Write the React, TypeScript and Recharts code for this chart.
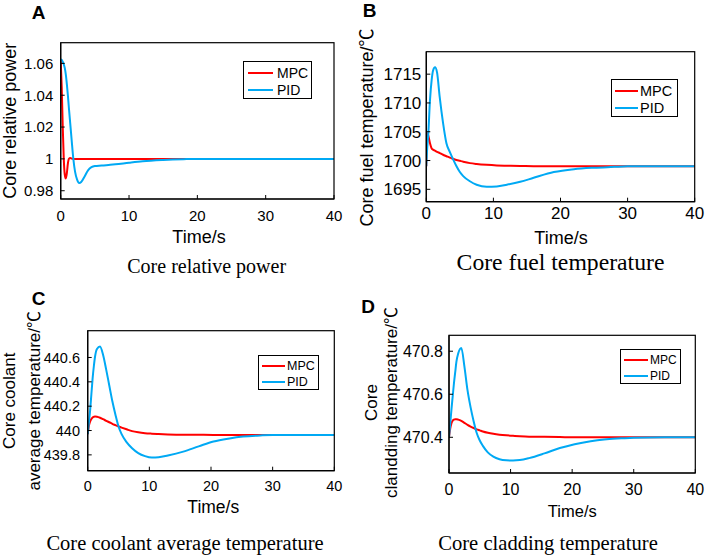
import React from 'react';
import { LineChart, Line, XAxis, YAxis, Legend } from 'recharts';

// time samples (s) and responses
const timeA = [0, 0.15, 0.3, 0.45, 0.6, 0.75, 0.9, 1.05, 1.2, 1.4, 1.6, 1.85, 2.1, 2.4, 2.7, 3, 3.5, 4, 4.5, 5, 6, 7, 8, 10, 12, 15, 18, 20, 25, 30, 35, 40];
const mpcA = [1.062, 1.045, 1.02, 1.0, 0.99, 0.9877, 0.991, 0.997, 1.0, 1.0005, 1.0002, 1.0, 1.0, 1.0, 1.0, 1.0, 1.0, 1.0, 1.0, 1.0, 1.0, 1.0, 1.0, 1.0, 1.0, 1.0, 1.0, 1.0, 1.0, 1.0, 1.0, 1.0];
const pidA = [1.0625, 1.0622, 1.061, 1.0595, 1.057, 1.053, 1.047, 1.04, 1.032, 1.022, 1.012, 1.0, 0.992, 0.987, 0.9849, 0.9855, 0.989, 0.9928, 0.9948, 0.9955, 0.9958, 0.9962, 0.9966, 0.9976, 0.9985, 0.9993, 0.9998, 1.0, 1.0, 1.0, 1.0, 1.0];

const timeB = [0, 0.1, 0.3, 0.55, 0.8, 1.0, 1.3, 1.6, 2.0, 2.5, 3.0, 3.5, 4, 4.5, 5, 5.5, 6.5, 7.5, 9, 10.5, 12, 14, 16, 19, 22, 25, 28, 30, 35, 40];
const mpcB = [1699.0, 1704.8, 1704.3, 1703.0, 1702.1, 1701.9, 1701.7, 1701.5, 1701.3, 1701.0, 1700.75, 1700.5, 1700.3, 1700.1, 1699.95, 1699.8, 1699.55, 1699.4, 1699.25, 1699.15, 1699.1, 1699.05, 1699.02, 1699.0, 1699.0, 1699.0, 1699.0, 1699.0, 1699.0, 1699.0];
const pidB = [1699.0, 1701.5, 1704.7, 1710.5, 1714.0, 1715.6, 1716.2, 1715.3, 1711.0, 1706.5, 1703.0, 1701.5, 1700.2, 1699.0, 1698.0, 1697.3, 1696.4, 1695.8, 1695.45, 1695.5, 1695.8, 1696.3, 1697.0, 1698.0, 1698.5, 1698.75, 1698.9, 1699.0, 1699.0, 1699.0];

const timeCD = [0, 0.2, 0.4, 0.6, 0.8, 1.0, 1.2, 1.5, 2.0, 2.5, 3.0, 3.5, 4.0, 4.5, 5.0, 5.5, 6.3, 7.2, 8.2, 9.3, 10.4, 11.5, 13, 15.5, 18, 20.4, 23, 25.2, 28, 30, 35, 40];
const mpcC = [439.97, 440.04, 440.075, 440.095, 440.108, 440.113, 440.115, 440.113, 440.105, 440.093, 440.08, 440.068, 440.055, 440.044, 440.033, 440.024, 440.01, 439.995, 439.985, 439.978, 439.974, 439.971, 439.968, 439.966, 439.965, 439.964, 439.964, 439.964, 439.964, 439.964, 439.964, 439.964];
const pidC = [439.97, 440.07, 440.17, 440.3, 440.43, 440.53, 440.61, 440.67, 440.69, 440.62, 440.5, 440.37, 440.24, 440.13, 440.033, 439.97, 439.905, 439.855, 439.815, 439.79, 439.778, 439.78, 439.795, 439.827, 439.87, 439.91, 439.935, 439.95, 439.96, 439.964, 439.964, 439.964];
const mpcD = [470.4, 470.44, 470.465, 470.477, 470.482, 470.484, 470.484, 470.482, 470.476, 470.467, 470.458, 470.45, 470.443, 470.437, 470.432, 470.427, 470.421, 470.416, 470.412, 470.409, 470.407, 470.405, 470.403, 470.402, 470.401, 470.4, 470.4, 470.4, 470.4, 470.4, 470.4, 470.4];
const pidD = [470.4, 470.465, 470.53, 470.59, 470.65, 470.7, 470.75, 470.79, 470.815, 470.73, 470.62, 470.54, 470.475, 470.42, 470.385, 470.36, 470.33, 470.31, 470.298, 470.293, 470.292, 470.294, 470.303, 470.325, 470.35, 470.368, 470.382, 470.39, 470.395, 470.398, 470.4, 470.4];

const timeTicks = [0, 10, 20, 30, 40];
const ticksA = [0.98, 1, 1.02, 1.04, 1.06];
const ticksB = [1695, 1700, 1705, 1710, 1715];
const ticksC = [439.8, 440, 440.2, 440.4, 440.6];
const ticksD = [470.4, 470.6, 470.8];
const seriesNames = ['MPC', 'PID'];

const RED = '#ff0000';
const BLUE = '#00a9f4';
const SANS = '"Liberation Sans", Arial, "Noto Sans CJK SC", sans-serif';
const SERIF = '"Liberation Serif", "Times New Roman", serif';

const toRows = (t: number[], mpc: number[], pid: number[]) =>
  t.map((time, i) => ({ time, MPC: mpc[i], PID: pid[i] }));

const AxisText = ({ px, py, size, lines, gap = 0, vertical = false }: any) => (
  <g>
    {lines.map((s: string, i: number) => {
      const x = vertical ? px + i * gap : px;
      const y = vertical ? py : py + i * gap;
      return (
        <text
          key={i}
          x={x}
          y={y}
          fontSize={size}
          fontFamily={SANS}
          fill="#000"
          textAnchor="middle"
          dominantBaseline="central"
          transform={vertical ? `rotate(-90 ${x} ${y})` : undefined}
        >
          {s}
        </text>
      );
    })}
  </g>
);

const LegendBox = ({ payload, w, h, rows, pad, len, gap, size }: any) => {
  const items = seriesNames
    .map((n) => (payload || []).find((p: any) => p.value === n && p.type !== 'none'))
    .filter(Boolean);
  return (
    <div
      style={{
        position: 'relative',
        width: w,
        height: h,
        boxSizing: 'border-box',
        border: '1.3px solid #000',
        background: '#fff',
        fontFamily: SANS,
        fontSize: size,
        color: '#000',
      }}
    >
      {items.map((p: any, i: number) => (
        <div
          key={p.value}
          style={{ position: 'absolute', left: pad - 1, top: rows[i] - 9, height: 18, display: 'flex', alignItems: 'center', lineHeight: 1 }}
        >
          <svg width={len} height={4} style={{ display: 'block' }}>
            <line x1={0} y1={2} x2={len} y2={2} stroke={p.color} strokeWidth={2} />
          </svg>
          <span style={{ marginLeft: gap }}>{p.value}</span>
        </div>
      ))}
    </div>
  );
};

const Panel = ({ cfg }: any) => {
  const { ox, oy, w, h, frame, data, yDomain, yTicks, font, xMargin, yMargin, yLabel, xLabel, legend } = cfg;
  const xh = 50;
  const yw = frame.x1 - ox;
  const margin = { top: frame.y1 - oy, right: ox + w - frame.x2, left: 0, bottom: oy + h - frame.y2 - xh };
  const tickStyle = { fill: '#000', fontSize: font, fontFamily: SANS };
  const axisLine = { stroke: '#000', strokeWidth: 1.2 };
  const tickLine = { stroke: '#000', strokeWidth: 1 };
  return (
    <div style={{ position: 'absolute', left: ox, top: oy, width: w, height: h }}>
      <LineChart width={w} height={h} data={data} margin={margin}>
        <XAxis
          dataKey="time"
          type="number"
          domain={[0, 40]}
          ticks={timeTicks}
          interval={0}
          allowDataOverflow
          height={xh}
          tickSize={-4}
          tickMargin={xMargin}
          fontSize={font}
          tick={tickStyle}
          axisLine={axisLine}
          tickLine={tickLine}
          label={<AxisText px={xLabel.x} py={xLabel.y} size={xLabel.size} lines={['Time/s']} />}
        />
        <YAxis
          type="number"
          domain={yDomain}
          ticks={yTicks}
          interval={0}
          allowDataOverflow
          width={yw}
          tickSize={-4}
          tickMargin={yMargin}
          fontSize={font}
          tick={tickStyle}
          axisLine={axisLine}
          tickLine={tickLine}
          label={<AxisText px={yLabel.x} py={yLabel.y} size={yLabel.size} lines={yLabel.lines} gap={yLabel.gap} vertical />}
        />
        <Legend
          layout="vertical"
          align="center"
          verticalAlign="middle"
          wrapperStyle={{ left: legend.x - ox, top: legend.y - oy, width: legend.w, height: legend.h, right: 'auto', bottom: 'auto' }}
          content={(props: any) => <LegendBox {...props} {...legend} />}
        />
        <Line type="monotone" dataKey="MPC" name="MPC" stroke={RED} strokeWidth={2} dot={false} isAnimationActive={false} />
        <Line type="monotone" dataKey="PID" name="PID" stroke={BLUE} strokeWidth={2} dot={false} isAnimationActive={false} />
      </LineChart>
    </div>
  );
};

const panels = [
  {
    ox: 0, oy: 0, w: 353, h: 278,
    frame: { x1: 60.7, x2: 334, y1: 42.7, y2: 199 },
    data: toRows(timeA, mpcA, pidA),
    yDomain: [0.9748, 1.073], yTicks: ticksA,
    font: 15, xMargin: 15.7, yMargin: 11.4,
    yLabel: { x: 10.2, y: 120.8, size: 18, lines: ['Core relative power'], gap: 0 },
    xLabel: { x: 199, y: 236.7, size: 18 },
    legend: { x: 243, y: 61, w: 69, h: 38, rows: [11, 28], pad: 5, len: 25, gap: 4, size: 14 },
  },
  {
    ox: 353, oy: 0, w: 353, h: 278,
    frame: { x1: 426.3, x2: 694.7, y1: 51.7, y2: 201.7 },
    data: toRows(timeB, mpcB, pidB),
    yDomain: [1692.85, 1718.9], yTicks: ticksB,
    font: 17, xMargin: 9.2, yMargin: 9,
    yLabel: { x: 13.8, y: 127.5, size: 18, lines: ['Core fuel temperature/℃'], gap: 0 },
    xLabel: { x: 208, y: 238.3, size: 18 },
    legend: { x: 610.7, y: 79.3, w: 67.3, h: 38, rows: [10.7, 28], pad: 4, len: 23.3, gap: 2, size: 14.5 },
  },
  {
    ox: 0, oy: 278, w: 353, h: 279,
    frame: { x1: 87.7, x2: 334.3, y1: 330.7, y2: 470.7 },
    data: toRows(timeCD, mpcC, pidC),
    yDomain: [439.67, 440.82], yTicks: ticksC,
    font: 14.5, xMargin: 14.5, yMargin: 11.7,
    yLabel: { x: 9.8, y: 122.8, size: 17, lines: ['Core coolant', 'average temperature/℃'], gap: 25 },
    xLabel: { x: 213.3, y: 229.3, size: 17.5 },
    legend: { x: 257.7, y: 355.3, w: 61.3, h: 34.4, rows: [10, 26], pad: 4, len: 23.3, gap: 2, size: 12.5 },
  },
  {
    ox: 353, oy: 278, w: 353, h: 279,
    frame: { x1: 449, x2: 695.3, y1: 335.3, y2: 473 },
    data: toRows(timeCD, mpcD, pidD),
    yDomain: [470.234, 470.874], yTicks: ticksD,
    font: 16, xMargin: 15.1, yMargin: 10,
    yLabel: { x: 18.3, y: 124.5, size: 17, lines: ['Core', 'clandding temperature/℃'], gap: 20 },
    xLabel: { x: 219.3, y: 232.7, size: 16.5 },
    legend: { x: 619.7, y: 348.7, w: 61.6, h: 35.3, rows: [10, 26], pad: 4, len: 24.3, gap: 2, size: 12 },
  },
];

const letters = [
  { s: 'A', x: 31.7, y: 19 },
  { s: 'B', x: 362.7, y: 16.7 },
  { s: 'C', x: 31.7, y: 305 },
  { s: 'D', x: 361.3, y: 313 },
];

const captions = [
  { s: 'Core relative power', x: 206.7, y: 272.5, size: 20 },
  { s: 'Core fuel temperature', x: 560.5, y: 270, size: 23.7 },
  { s: 'Core coolant average temperature', x: 185, y: 549.7, size: 20.5 },
  { s: 'Core cladding temperature', x: 548, y: 549.7, size: 20.6 },
];

export default function App() {
  return (
    <div style={{ position: 'absolute', left: 0, top: 0, width: 706, height: 557, background: '#fff', overflow: 'hidden' }}>
      {panels.map((p, i) => (
        <Panel key={i} cfg={p} />
      ))}
      <svg width={706} height={557} style={{ position: 'absolute', left: 0, top: 0, pointerEvents: 'none' }}>
        {/* box around each plot area */}
        {panels.map((p, i) => (
          <rect
            key={i}
            x={p.frame.x1}
            y={p.frame.y1}
            width={p.frame.x2 - p.frame.x1}
            height={p.frame.y2 - p.frame.y1}
            fill="none"
            stroke="#000"
            strokeWidth={1.2}
          />
        ))}
        {letters.map((l) => (
          <text key={l.s} x={l.x} y={l.y} fontSize={19} fontWeight="bold" fontFamily={SANS} fill="#000">
            {l.s}
          </text>
        ))}
        {captions.map((c) => (
          <text key={c.s} x={c.x} y={c.y} fontSize={c.size} fontFamily={SERIF} fill="#000" textAnchor="middle">
            {c.s}
          </text>
        ))}
      </svg>
    </div>
  );
}
